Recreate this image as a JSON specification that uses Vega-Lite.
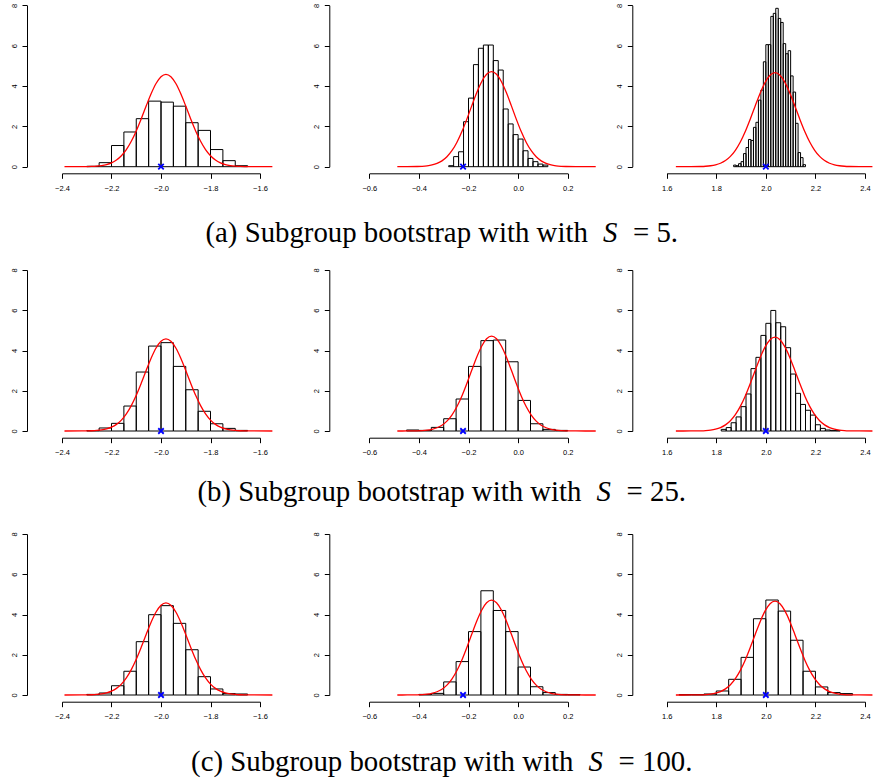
{
  "$schema": "https://vega.github.io/schema/vega-lite/v6.json",
  "background": "white",
  "width": 873,
  "height": 782,
  "autosize": "none",
  "padding": 0,
  "datasets": {
    "hist": [
      {"p":"a1","a":-2.30,"b":-2.25,"d":0.02},{"p":"a1","a":-2.25,"b":-2.20,"d":0.2},{"p":"a1","a":-2.20,"b":-2.15,"d":1.05},{"p":"a1","a":-2.15,"b":-2.10,"d":1.72},{"p":"a1","a":-2.10,"b":-2.05,"d":2.38},{"p":"a1","a":-2.05,"b":-2.00,"d":3.25},{"p":"a1","a":-2.00,"b":-1.95,"d":3.2},{"p":"a1","a":-1.95,"b":-1.90,"d":3.0},{"p":"a1","a":-1.90,"b":-1.85,"d":2.18},{"p":"a1","a":-1.85,"b":-1.80,"d":1.8},{"p":"a1","a":-1.80,"b":-1.75,"d":0.85},{"p":"a1","a":-1.75,"b":-1.70,"d":0.3},{"p":"a1","a":-1.70,"b":-1.65,"d":0.05},
      {"p":"a2","a":-0.28,"b":-0.26,"d":0.05},{"p":"a2","a":-0.26,"b":-0.24,"d":0.5},{"p":"a2","a":-0.24,"b":-0.22,"d":0.74},{"p":"a2","a":-0.22,"b":-0.20,"d":2.23},{"p":"a2","a":-0.20,"b":-0.18,"d":3.4},{"p":"a2","a":-0.18,"b":-0.16,"d":5.06},{"p":"a2","a":-0.16,"b":-0.14,"d":5.87},{"p":"a2","a":-0.14,"b":-0.12,"d":6.03},{"p":"a2","a":-0.12,"b":-0.10,"d":6.03},{"p":"a2","a":-0.10,"b":-0.08,"d":5.26},{"p":"a2","a":-0.08,"b":-0.06,"d":4.79},{"p":"a2","a":-0.06,"b":-0.04,"d":2.86},{"p":"a2","a":-0.04,"b":-0.02,"d":2.12},{"p":"a2","a":-0.02,"b":0.00,"d":1.59},{"p":"a2","a":0.00,"b":0.02,"d":1.37},{"p":"a2","a":0.02,"b":0.04,"d":0.79},{"p":"a2","a":0.04,"b":0.06,"d":0.41},{"p":"a2","a":0.06,"b":0.08,"d":0.25},{"p":"a2","a":0.08,"b":0.10,"d":0.13},{"p":"a2","a":0.10,"b":0.12,"d":0.08},
      {"p":"a3","a":1.87,"b":1.88,"d":0.08},{"p":"a3","a":1.88,"b":1.89,"d":0.05},{"p":"a3","a":1.89,"b":1.90,"d":0.15},{"p":"a3","a":1.90,"b":1.91,"d":0.25},{"p":"a3","a":1.91,"b":1.92,"d":0.65},{"p":"a3","a":1.92,"b":1.93,"d":0.95},{"p":"a3","a":1.93,"b":1.94,"d":1.35},{"p":"a3","a":1.94,"b":1.95,"d":1.3},{"p":"a3","a":1.95,"b":1.96,"d":1.95},{"p":"a3","a":1.96,"b":1.97,"d":2.2},{"p":"a3","a":1.97,"b":1.98,"d":3.3},{"p":"a3","a":1.98,"b":1.99,"d":3.8},{"p":"a3","a":1.99,"b":2.00,"d":5.2},{"p":"a3","a":2.00,"b":2.01,"d":6.05},{"p":"a3","a":2.01,"b":2.02,"d":6.05},{"p":"a3","a":2.02,"b":2.03,"d":7.45},{"p":"a3","a":2.03,"b":2.04,"d":7.6},{"p":"a3","a":2.04,"b":2.05,"d":7.85},{"p":"a3","a":2.05,"b":2.06,"d":7.35},{"p":"a3","a":2.06,"b":2.07,"d":7.15},{"p":"a3","a":2.07,"b":2.08,"d":6.1},{"p":"a3","a":2.08,"b":2.09,"d":5.6},{"p":"a3","a":2.09,"b":2.10,"d":5.75},{"p":"a3","a":2.10,"b":2.11,"d":4.5},{"p":"a3","a":2.11,"b":2.12,"d":3.7},{"p":"a3","a":2.12,"b":2.13,"d":2.15},{"p":"a3","a":2.13,"b":2.14,"d":0.7},{"p":"a3","a":2.14,"b":2.15,"d":0.45},{"p":"a3","a":2.15,"b":2.16,"d":0.1},
      {"p":"b1","a":-2.30,"b":-2.25,"d":0.02},{"p":"b1","a":-2.25,"b":-2.20,"d":0.15},{"p":"b1","a":-2.20,"b":-2.15,"d":0.38},{"p":"b1","a":-2.15,"b":-2.10,"d":1.24},{"p":"b1","a":-2.10,"b":-2.05,"d":2.93},{"p":"b1","a":-2.05,"b":-2.00,"d":4.22},{"p":"b1","a":-2.00,"b":-1.95,"d":4.39},{"p":"b1","a":-1.95,"b":-1.90,"d":3.21},{"p":"b1","a":-1.90,"b":-1.85,"d":2.05},{"p":"b1","a":-1.85,"b":-1.80,"d":0.98},{"p":"b1","a":-1.80,"b":-1.75,"d":0.36},{"p":"b1","a":-1.75,"b":-1.70,"d":0.13},{"p":"b1","a":-1.70,"b":-1.65,"d":0.03},
      {"p":"b2","a":-0.45,"b":-0.40,"d":0.05},{"p":"b2","a":-0.40,"b":-0.35,"d":0.03},{"p":"b2","a":-0.35,"b":-0.30,"d":0.18},{"p":"b2","a":-0.30,"b":-0.25,"d":0.61},{"p":"b2","a":-0.25,"b":-0.20,"d":1.59},{"p":"b2","a":-0.20,"b":-0.15,"d":3.21},{"p":"b2","a":-0.15,"b":-0.10,"d":4.49},{"p":"b2","a":-0.10,"b":-0.05,"d":4.52},{"p":"b2","a":-0.05,"b":0.00,"d":3.44},{"p":"b2","a":0.00,"b":0.05,"d":1.52},{"p":"b2","a":0.05,"b":0.10,"d":0.36},{"p":"b2","a":0.10,"b":0.15,"d":0.08},{"p":"b2","a":0.15,"b":0.20,"d":0.03},
      {"p":"b3","a":1.82,"b":1.84,"d":0.08},{"p":"b3","a":1.84,"b":1.86,"d":0.17},{"p":"b3","a":1.86,"b":1.88,"d":0.41},{"p":"b3","a":1.88,"b":1.90,"d":0.7},{"p":"b3","a":1.90,"b":1.92,"d":1.21},{"p":"b3","a":1.92,"b":1.94,"d":1.84},{"p":"b3","a":1.94,"b":1.96,"d":3.1},{"p":"b3","a":1.96,"b":1.98,"d":3.66},{"p":"b3","a":1.98,"b":2.00,"d":4.75},{"p":"b3","a":2.00,"b":2.02,"d":5.35},{"p":"b3","a":2.02,"b":2.04,"d":5.99},{"p":"b3","a":2.04,"b":2.06,"d":5.38},{"p":"b3","a":2.06,"b":2.08,"d":5.18},{"p":"b3","a":2.08,"b":2.10,"d":4.14},{"p":"b3","a":2.10,"b":2.12,"d":2.83},{"p":"b3","a":2.12,"b":2.14,"d":1.87},{"p":"b3","a":2.14,"b":2.16,"d":1.32},{"p":"b3","a":2.16,"b":2.18,"d":1.03},{"p":"b3","a":2.18,"b":2.20,"d":0.79},{"p":"b3","a":2.20,"b":2.22,"d":0.31},{"p":"b3","a":2.22,"b":2.24,"d":0.13},{"p":"b3","a":2.24,"b":2.26,"d":0.05},{"p":"b3","a":2.26,"b":2.28,"d":0.03},{"p":"b3","a":2.28,"b":2.30,"d":0.02},
      {"p":"c1","a":-2.30,"b":-2.25,"d":0.03},{"p":"c1","a":-2.25,"b":-2.20,"d":0.1},{"p":"c1","a":-2.20,"b":-2.15,"d":0.46},{"p":"c1","a":-2.15,"b":-2.10,"d":1.18},{"p":"c1","a":-2.10,"b":-2.05,"d":2.65},{"p":"c1","a":-2.05,"b":-2.00,"d":3.99},{"p":"c1","a":-2.00,"b":-1.95,"d":4.44},{"p":"c1","a":-1.95,"b":-1.90,"d":3.56},{"p":"c1","a":-1.90,"b":-1.85,"d":2.25},{"p":"c1","a":-1.85,"b":-1.80,"d":0.91},{"p":"c1","a":-1.80,"b":-1.75,"d":0.3},{"p":"c1","a":-1.75,"b":-1.70,"d":0.07},{"p":"c1","a":-1.70,"b":-1.65,"d":0.05},
      {"p":"c2","a":-0.40,"b":-0.35,"d":0.03},{"p":"c2","a":-0.35,"b":-0.30,"d":0.08},{"p":"c2","a":-0.30,"b":-0.25,"d":0.65},{"p":"c2","a":-0.25,"b":-0.20,"d":1.66},{"p":"c2","a":-0.20,"b":-0.15,"d":3.15},{"p":"c2","a":-0.15,"b":-0.10,"d":5.18},{"p":"c2","a":-0.10,"b":-0.05,"d":4.2},{"p":"c2","a":-0.05,"b":0.00,"d":3.15},{"p":"c2","a":0.00,"b":0.05,"d":1.39},{"p":"c2","a":0.05,"b":0.10,"d":0.41},{"p":"c2","a":0.10,"b":0.15,"d":0.12},{"p":"c2","a":0.15,"b":0.20,"d":0.03},{"p":"c2","a":0.20,"b":0.25,"d":0.02},
      {"p":"c3","a":1.65,"b":1.70,"d":0.02},{"p":"c3","a":1.70,"b":1.75,"d":0.02},{"p":"c3","a":1.75,"b":1.80,"d":0.05},{"p":"c3","a":1.80,"b":1.85,"d":0.2},{"p":"c3","a":1.85,"b":1.90,"d":0.78},{"p":"c3","a":1.90,"b":1.95,"d":1.87},{"p":"c3","a":1.95,"b":2.00,"d":3.79},{"p":"c3","a":2.00,"b":2.05,"d":4.72},{"p":"c3","a":2.05,"b":2.10,"d":4.17},{"p":"c3","a":2.10,"b":2.15,"d":2.72},{"p":"c3","a":2.15,"b":2.20,"d":1.18},{"p":"c3","a":2.20,"b":2.25,"d":0.4},{"p":"c3","a":2.25,"b":2.30,"d":0.12},{"p":"c3","a":2.30,"b":2.35,"d":0.07}
    ],
    "curve": [
      {"c":1,"x":-2.39,"y":0},{"c":1,"x":-2.32,"y":0.0022},{"c":1,"x":-2.28,"y":0.0122},{"c":1,"x":-2.26,"y":0.0261},{"c":1,"x":-2.24,"y":0.0532},{"c":1,"x":-2.22,"y":0.1028},{"c":1,"x":-2.20,"y":0.1886},{"c":1,"x":-2.18,"y":0.328},{"c":1,"x":-2.16,"y":0.541},{"c":1,"x":-2.14,"y":0.847},{"c":1,"x":-2.12,"y":1.259},{"c":1,"x":-2.10,"y":1.773},{"c":1,"x":-2.08,"y":2.369},{"c":1,"x":-2.06,"y":3.004},{"c":1,"x":-2.04,"y":3.613},{"c":1,"x":-2.02,"y":4.122},{"c":1,"x":-2.00,"y":4.461},{"c":1,"x":-1.98,"y":4.58},{"c":1,"x":-1.96,"y":4.461},{"c":1,"x":-1.94,"y":4.122},{"c":1,"x":-1.92,"y":3.613},{"c":1,"x":-1.90,"y":3.004},{"c":1,"x":-1.88,"y":2.369},{"c":1,"x":-1.86,"y":1.773},{"c":1,"x":-1.84,"y":1.259},{"c":1,"x":-1.82,"y":0.847},{"c":1,"x":-1.80,"y":0.541},{"c":1,"x":-1.78,"y":0.328},{"c":1,"x":-1.76,"y":0.1886},{"c":1,"x":-1.74,"y":0.1028},{"c":1,"x":-1.72,"y":0.0532},{"c":1,"x":-1.70,"y":0.0261},{"c":1,"x":-1.68,"y":0.0122},{"c":1,"x":-1.64,"y":0.0022},{"c":1,"x":-1.55,"y":0},
      {"c":2,"x":-0.487,"y":0},{"c":2,"x":-0.447,"y":0.0015},{"c":2,"x":-0.407,"y":0.0089},{"c":2,"x":-0.387,"y":0.02},{"c":2,"x":-0.367,"y":0.0424},{"c":2,"x":-0.347,"y":0.0851},{"c":2,"x":-0.327,"y":0.1615},{"c":2,"x":-0.307,"y":0.2899},{"c":2,"x":-0.287,"y":0.4927},{"c":2,"x":-0.267,"y":0.791},{"c":2,"x":-0.247,"y":1.202},{"c":2,"x":-0.227,"y":1.727},{"c":2,"x":-0.207,"y":2.346},{"c":2,"x":-0.187,"y":3.015},{"c":2,"x":-0.167,"y":3.665},{"c":2,"x":-0.147,"y":4.213},{"c":2,"x":-0.127,"y":4.58},{"c":2,"x":-0.107,"y":4.71},{"c":2,"x":-0.087,"y":4.58},{"c":2,"x":-0.067,"y":4.213},{"c":2,"x":-0.047,"y":3.665},{"c":2,"x":-0.027,"y":3.015},{"c":2,"x":-0.007,"y":2.346},{"c":2,"x":0.013,"y":1.727},{"c":2,"x":0.033,"y":1.202},{"c":2,"x":0.053,"y":0.791},{"c":2,"x":0.073,"y":0.4927},{"c":2,"x":0.093,"y":0.2899},{"c":2,"x":0.113,"y":0.1615},{"c":2,"x":0.133,"y":0.0851},{"c":2,"x":0.153,"y":0.0424},{"c":2,"x":0.173,"y":0.02},{"c":2,"x":0.193,"y":0.0089},{"c":2,"x":0.233,"y":0.0015},{"c":2,"x":0.313,"y":0},
      {"c":3,"x":1.637,"y":0},{"c":3,"x":1.697,"y":0.0017},{"c":3,"x":1.737,"y":0.01},{"c":3,"x":1.757,"y":0.0221},{"c":3,"x":1.777,"y":0.0462},{"c":3,"x":1.797,"y":0.0915},{"c":3,"x":1.817,"y":0.1714},{"c":3,"x":1.837,"y":0.304},{"c":3,"x":1.857,"y":0.511},{"c":3,"x":1.877,"y":0.812},{"c":3,"x":1.897,"y":1.223},{"c":3,"x":1.917,"y":1.744},{"c":3,"x":1.937,"y":2.355},{"c":3,"x":1.957,"y":3.011},{"c":3,"x":1.977,"y":3.645},{"c":3,"x":1.997,"y":4.178},{"c":3,"x":2.017,"y":4.535},{"c":3,"x":2.037,"y":4.66},{"c":3,"x":2.057,"y":4.535},{"c":3,"x":2.077,"y":4.178},{"c":3,"x":2.097,"y":3.645},{"c":3,"x":2.117,"y":3.011},{"c":3,"x":2.137,"y":2.355},{"c":3,"x":2.157,"y":1.744},{"c":3,"x":2.177,"y":1.223},{"c":3,"x":2.197,"y":0.812},{"c":3,"x":2.217,"y":0.511},{"c":3,"x":2.237,"y":0.304},{"c":3,"x":2.257,"y":0.1714},{"c":3,"x":2.277,"y":0.0915},{"c":3,"x":2.297,"y":0.0462},{"c":3,"x":2.317,"y":0.0221},{"c":3,"x":2.337,"y":0.01},{"c":3,"x":2.377,"y":0.0017},{"c":3,"x":2.43,"y":0}
    ],
    "truth": [{"c":1,"x":-2.0},{"c":2,"x":-0.222},{"c":3,"x":2.0}]
  },
  "layer": [
    {"layer": [
      {"data": {"name": "hist"}, "transform": [{"filter": "datum.p === 'a1'"}], "mark": {"type": "rect", "fill": "transparent", "stroke": "black", "strokeWidth": 1},
       "encoding": {"x": {"field": "a", "type": "quantitative", "scale": {"domain": [-2.4, -1.6], "range": [62, 260], "nice": false, "zero": false}, "axis": {"orient": "bottom", "offset": -608.7, "values": [-2.4, -2.2, -2.0, -1.8, -1.6], "format": ".1f", "title": "= 5.", "titleX": 632.5, "titleY": 68.5}}, "x2": {"field": "b"},
                    "y": {"field": "d", "type": "quantitative", "scale": {"domain": [0, 8], "range": [166.7, 5.3], "nice": false}, "axis": {"orient": "left", "offset": -27, "values": [0, 2, 4, 6, 8], "format": "d", "title": null}}, "y2": {"datum": 0}}},
      {"data": {"name": "curve"}, "transform": [{"filter": "datum.c === 1"}], "mark": {"type": "line", "color": "#FF0000", "strokeWidth": 1.3, "interpolate": "monotone"}, "encoding": {"x": {"field": "x", "type": "quantitative"}, "y": {"field": "y", "type": "quantitative", "title": null}}},
      {"data": {"name": "truth"}, "transform": [{"filter": "datum.c === 1"}], "mark": {"type": "point", "shape": "M-1,-1L1,1M-1,1L1,-1", "filled": false, "stroke": "#0000FF", "strokeWidth": 1.8, "size": 30, "opacity": 1}, "encoding": {"x": {"field": "x", "type": "quantitative"}, "y": {"datum": 0}}}
    ]},
    {"layer": [
      {"data": {"name": "hist"}, "transform": [{"filter": "datum.p === 'a2'"}], "mark": {"type": "rect", "fill": "transparent", "stroke": "black", "strokeWidth": 1},
       "encoding": {"x": {"field": "a", "type": "quantitative", "scale": {"domain": [-0.6, 0.2], "range": [369.3, 567.7], "nice": false, "zero": false}, "axis": {"orient": "bottom", "offset": -608.7, "values": [-0.6, -0.4, -0.2, 0, 0.2], "format": ".1f", "title": "(a) Subgroup bootstrap with with", "titleX": 205, "titleY": 68.5}}, "x2": {"field": "b"},
                    "y": {"field": "d", "type": "quantitative", "scale": {"domain": [0, 8], "range": [166.7, 5.3], "nice": false}, "axis": {"orient": "left", "offset": -329.3, "values": [0, 2, 4, 6, 8], "format": "d", "title": null}}, "y2": {"datum": 0}}},
      {"data": {"name": "curve"}, "transform": [{"filter": "datum.c === 2"}], "mark": {"type": "line", "color": "#FF0000", "strokeWidth": 1.3, "interpolate": "monotone"}, "encoding": {"x": {"field": "x", "type": "quantitative"}, "y": {"field": "y", "type": "quantitative", "title": null}}},
      {"data": {"name": "truth"}, "transform": [{"filter": "datum.c === 2"}], "mark": {"type": "point", "shape": "M-1,-1L1,1M-1,1L1,-1", "filled": false, "stroke": "#0000FF", "strokeWidth": 1.8, "size": 30, "opacity": 1}, "encoding": {"x": {"field": "x", "type": "quantitative"}, "y": {"datum": 0}}}
    ]},
    {"layer": [
      {"data": {"name": "hist"}, "transform": [{"filter": "datum.p === 'a3'"}], "mark": {"type": "rect", "fill": "transparent", "stroke": "black", "strokeWidth": 1},
       "encoding": {"x": {"field": "a", "type": "quantitative", "scale": {"domain": [1.6, 2.4], "range": [666.7, 865], "nice": false, "zero": false}, "axis": {"orient": "bottom", "offset": -608.7, "values": [1.6, 1.8, 2.0, 2.2, 2.4], "format": ".1f", "title": "S", "titleFontStyle": "italic", "titleX": 602.5, "titleY": 68.5}}, "x2": {"field": "b"},
                    "y": {"field": "d", "type": "quantitative", "scale": {"domain": [0, 8], "range": [166.7, 5.3], "nice": false}, "axis": {"orient": "left", "offset": -632.3, "values": [0, 2, 4, 6, 8], "format": "d", "title": null}}, "y2": {"datum": 0}}},
      {"data": {"name": "curve"}, "transform": [{"filter": "datum.c === 3"}], "mark": {"type": "line", "color": "#FF0000", "strokeWidth": 1.3, "interpolate": "monotone"}, "encoding": {"x": {"field": "x", "type": "quantitative"}, "y": {"field": "y", "type": "quantitative", "title": null}}},
      {"data": {"name": "truth"}, "transform": [{"filter": "datum.c === 3"}], "mark": {"type": "point", "shape": "M-1,-1L1,1M-1,1L1,-1", "filled": false, "stroke": "#0000FF", "strokeWidth": 1.8, "size": 30, "opacity": 1}, "encoding": {"x": {"field": "x", "type": "quantitative"}, "y": {"datum": 0}}}
    ]},
    {"layer": [
      {"data": {"name": "hist"}, "transform": [{"filter": "datum.p === 'b1'"}], "mark": {"type": "rect", "fill": "transparent", "stroke": "black", "strokeWidth": 1},
       "encoding": {"x": {"field": "a", "type": "quantitative", "scale": {"domain": [-2.4, -1.6], "range": [62, 260], "nice": false, "zero": false}, "axis": {"orient": "bottom", "offset": -344.3, "values": [-2.4, -2.2, -2.0, -1.8, -1.6], "format": ".1f", "title": "= 25.", "titleX": 626.1, "titleY": 62.5}}, "x2": {"field": "b"},
                    "y": {"field": "d", "type": "quantitative", "scale": {"domain": [0, 8], "range": [431, 270], "nice": false}, "axis": {"orient": "left", "offset": -27, "values": [0, 2, 4, 6, 8], "format": "d", "title": null}}, "y2": {"datum": 0}}},
      {"data": {"name": "curve"}, "transform": [{"filter": "datum.c === 1"}], "mark": {"type": "line", "color": "#FF0000", "strokeWidth": 1.3, "interpolate": "monotone"}, "encoding": {"x": {"field": "x", "type": "quantitative"}, "y": {"field": "y", "type": "quantitative", "title": null}}},
      {"data": {"name": "truth"}, "transform": [{"filter": "datum.c === 1"}], "mark": {"type": "point", "shape": "M-1,-1L1,1M-1,1L1,-1", "filled": false, "stroke": "#0000FF", "strokeWidth": 1.8, "size": 30, "opacity": 1}, "encoding": {"x": {"field": "x", "type": "quantitative"}, "y": {"datum": 0}}}
    ]},
    {"layer": [
      {"data": {"name": "hist"}, "transform": [{"filter": "datum.p === 'b2'"}], "mark": {"type": "rect", "fill": "transparent", "stroke": "black", "strokeWidth": 1},
       "encoding": {"x": {"field": "a", "type": "quantitative", "scale": {"domain": [-0.6, 0.2], "range": [369.3, 567.7], "nice": false, "zero": false}, "axis": {"orient": "bottom", "offset": -344.3, "values": [-0.6, -0.4, -0.2, 0, 0.2], "format": ".1f", "title": "(b) Subgroup bootstrap with with", "titleX": 197, "titleY": 62.5}}, "x2": {"field": "b"},
                    "y": {"field": "d", "type": "quantitative", "scale": {"domain": [0, 8], "range": [431, 270], "nice": false}, "axis": {"orient": "left", "offset": -329.3, "values": [0, 2, 4, 6, 8], "format": "d", "title": null}}, "y2": {"datum": 0}}},
      {"data": {"name": "curve"}, "transform": [{"filter": "datum.c === 2"}], "mark": {"type": "line", "color": "#FF0000", "strokeWidth": 1.3, "interpolate": "monotone"}, "encoding": {"x": {"field": "x", "type": "quantitative"}, "y": {"field": "y", "type": "quantitative", "title": null}}},
      {"data": {"name": "truth"}, "transform": [{"filter": "datum.c === 2"}], "mark": {"type": "point", "shape": "M-1,-1L1,1M-1,1L1,-1", "filled": false, "stroke": "#0000FF", "strokeWidth": 1.8, "size": 30, "opacity": 1}, "encoding": {"x": {"field": "x", "type": "quantitative"}, "y": {"datum": 0}}}
    ]},
    {"layer": [
      {"data": {"name": "hist"}, "transform": [{"filter": "datum.p === 'b3'"}], "mark": {"type": "rect", "fill": "transparent", "stroke": "black", "strokeWidth": 1},
       "encoding": {"x": {"field": "a", "type": "quantitative", "scale": {"domain": [1.6, 2.4], "range": [666.7, 865], "nice": false, "zero": false}, "axis": {"orient": "bottom", "offset": -344.3, "values": [1.6, 1.8, 2.0, 2.2, 2.4], "format": ".1f", "title": "S", "titleFontStyle": "italic", "titleX": 596.1, "titleY": 62.5}}, "x2": {"field": "b"},
                    "y": {"field": "d", "type": "quantitative", "scale": {"domain": [0, 8], "range": [431, 270], "nice": false}, "axis": {"orient": "left", "offset": -632.3, "values": [0, 2, 4, 6, 8], "format": "d", "title": null}}, "y2": {"datum": 0}}},
      {"data": {"name": "curve"}, "transform": [{"filter": "datum.c === 3"}], "mark": {"type": "line", "color": "#FF0000", "strokeWidth": 1.3, "interpolate": "monotone"}, "encoding": {"x": {"field": "x", "type": "quantitative"}, "y": {"field": "y", "type": "quantitative", "title": null}}},
      {"data": {"name": "truth"}, "transform": [{"filter": "datum.c === 3"}], "mark": {"type": "point", "shape": "M-1,-1L1,1M-1,1L1,-1", "filled": false, "stroke": "#0000FF", "strokeWidth": 1.8, "size": 30, "opacity": 1}, "encoding": {"x": {"field": "x", "type": "quantitative"}, "y": {"datum": 0}}}
    ]},
    {"layer": [
      {"data": {"name": "hist"}, "transform": [{"filter": "datum.p === 'c1'"}], "mark": {"type": "rect", "fill": "transparent", "stroke": "black", "strokeWidth": 1},
       "encoding": {"x": {"field": "a", "type": "quantitative", "scale": {"domain": [-2.4, -1.6], "range": [62, 260], "nice": false, "zero": false}, "axis": {"orient": "bottom", "offset": -80.3, "values": [-2.4, -2.2, -2.0, -1.8, -1.6], "format": ".1f", "title": "= 100.", "titleX": 618.1, "titleY": 69}}, "x2": {"field": "b"},
                    "y": {"field": "d", "type": "quantitative", "scale": {"domain": [0, 8], "range": [695, 534], "nice": false}, "axis": {"orient": "left", "offset": -27, "values": [0, 2, 4, 6, 8], "format": "d", "title": null}}, "y2": {"datum": 0}}},
      {"data": {"name": "curve"}, "transform": [{"filter": "datum.c === 1"}], "mark": {"type": "line", "color": "#FF0000", "strokeWidth": 1.3, "interpolate": "monotone"}, "encoding": {"x": {"field": "x", "type": "quantitative"}, "y": {"field": "y", "type": "quantitative", "title": null}}},
      {"data": {"name": "truth"}, "transform": [{"filter": "datum.c === 1"}], "mark": {"type": "point", "shape": "M-1,-1L1,1M-1,1L1,-1", "filled": false, "stroke": "#0000FF", "strokeWidth": 1.8, "size": 30, "opacity": 1}, "encoding": {"x": {"field": "x", "type": "quantitative"}, "y": {"datum": 0}}}
    ]},
    {"layer": [
      {"data": {"name": "hist"}, "transform": [{"filter": "datum.p === 'c2'"}], "mark": {"type": "rect", "fill": "transparent", "stroke": "black", "strokeWidth": 1},
       "encoding": {"x": {"field": "a", "type": "quantitative", "scale": {"domain": [-0.6, 0.2], "range": [369.3, 567.7], "nice": false, "zero": false}, "axis": {"orient": "bottom", "offset": -80.3, "values": [-0.6, -0.4, -0.2, 0, 0.2], "format": ".1f", "title": "(c) Subgroup bootstrap with with", "titleX": 190.6, "titleY": 69}}, "x2": {"field": "b"},
                    "y": {"field": "d", "type": "quantitative", "scale": {"domain": [0, 8], "range": [695, 534], "nice": false}, "axis": {"orient": "left", "offset": -329.3, "values": [0, 2, 4, 6, 8], "format": "d", "title": null}}, "y2": {"datum": 0}}},
      {"data": {"name": "curve"}, "transform": [{"filter": "datum.c === 2"}], "mark": {"type": "line", "color": "#FF0000", "strokeWidth": 1.3, "interpolate": "monotone"}, "encoding": {"x": {"field": "x", "type": "quantitative"}, "y": {"field": "y", "type": "quantitative", "title": null}}},
      {"data": {"name": "truth"}, "transform": [{"filter": "datum.c === 2"}], "mark": {"type": "point", "shape": "M-1,-1L1,1M-1,1L1,-1", "filled": false, "stroke": "#0000FF", "strokeWidth": 1.8, "size": 30, "opacity": 1}, "encoding": {"x": {"field": "x", "type": "quantitative"}, "y": {"datum": 0}}}
    ]},
    {"layer": [
      {"data": {"name": "hist"}, "transform": [{"filter": "datum.p === 'c3'"}], "mark": {"type": "rect", "fill": "transparent", "stroke": "black", "strokeWidth": 1},
       "encoding": {"x": {"field": "a", "type": "quantitative", "scale": {"domain": [1.6, 2.4], "range": [666.7, 865], "nice": false, "zero": false}, "axis": {"orient": "bottom", "offset": -80.3, "values": [1.6, 1.8, 2.0, 2.2, 2.4], "format": ".1f", "title": "S", "titleFontStyle": "italic", "titleX": 588.1, "titleY": 69}}, "x2": {"field": "b"},
                    "y": {"field": "d", "type": "quantitative", "scale": {"domain": [0, 8], "range": [695, 534], "nice": false}, "axis": {"orient": "left", "offset": -632.3, "values": [0, 2, 4, 6, 8], "format": "d", "title": null}}, "y2": {"datum": 0}}},
      {"data": {"name": "curve"}, "transform": [{"filter": "datum.c === 3"}], "mark": {"type": "line", "color": "#FF0000", "strokeWidth": 1.3, "interpolate": "monotone"}, "encoding": {"x": {"field": "x", "type": "quantitative"}, "y": {"field": "y", "type": "quantitative", "title": null}}},
      {"data": {"name": "truth"}, "transform": [{"filter": "datum.c === 3"}], "mark": {"type": "point", "shape": "M-1,-1L1,1M-1,1L1,-1", "filled": false, "stroke": "#0000FF", "strokeWidth": 1.8, "size": 30, "opacity": 1}, "encoding": {"x": {"field": "x", "type": "quantitative"}, "y": {"datum": 0}}}
    ]}
  ],
  "resolve": {"scale": {"x": "independent", "y": "independent"}, "axis": {"x": "independent", "y": "independent"}},
  "config": {
    "view": {"stroke": null},
    "axis": {"grid": false, "domainColor": "black", "tickColor": "black", "labelColor": "black", "labelFont": "Liberation Sans", "labelFontSize": 7.5, "tickSize": 5, "domainWidth": 1, "tickWidth": 1, "labelOverlap": false, "labelFlush": false,
             "titleFont": "Liberation Serif", "titleFontSize": 28.8, "titleFontWeight": "normal", "titleColor": "black", "titleAlign": "left", "titleBaseline": "alphabetic"},
    "axisX": {"labelPadding": 6},
    "axisY": {"labelAngle": -90, "labelAlign": "center", "labelBaseline": "bottom", "labelPadding": 4}
  }
}
